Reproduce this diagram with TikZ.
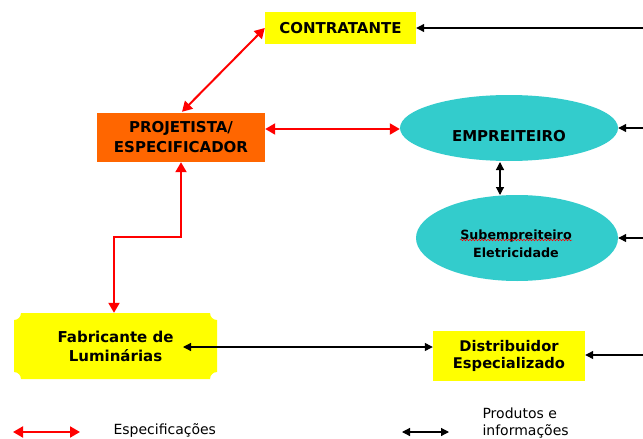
\documentclass[tikz,border=0pt]{standalone}
\usepackage{fontspec}
\setmainfont{DejaVu Sans}
\usetikzlibrary{arrows.meta,shapes.geometric,decorations.pathmorphing}
\definecolor{yel}{HTML}{FFFF00}
\definecolor{org}{HTML}{FF6600}
\definecolor{tea}{HTML}{33CCCC}
\definecolor{rd}{HTML}{FF0000}
\tikzset{
  ybox/.style={fill=yel, inner sep=0pt, align=center, font=\bfseries\fontsize{15}{19}\selectfont},
  dbox/.style={fill=yel, inner sep=0pt, align=center, font=\bfseries\fontsize{14.7}{17.5}\selectfont},
  obox/.style={fill=org, inner sep=0pt, align=center, font=\bfseries\fontsize{15}{20}\selectfont},
  ell/.style={ellipse, fill=tea, inner sep=0pt},
  etext/.style={align=center, font=\bfseries\fontsize{15}{19}\selectfont},
  stext/.style={align=center, font=\bfseries\fontsize{12.7}{18}\selectfont},
  redarr/.style={draw=rd, line width=2pt, {Triangle[length=10pt,width=11pt]}-{Triangle[length=10pt,width=11pt]}},
  blkarr/.style={draw=black, line width=1.2pt, {Triangle[length=8pt,width=8pt]}-{Triangle[length=8pt,width=8pt]}},
  blkone/.style={draw=black, line width=1.2pt, -{Triangle[length=8pt,width=8pt]}},
  legtext/.style={align=left, font=\fontsize{14}{17}\selectfont},
}
\begin{document}
\begin{tikzpicture}[x=1pt,y=1pt]
\useasboundingbox[fill=white] (0,0) rectangle (643,-439);

% nodes
\node[ybox, minimum width=151, minimum height=32] (contr) at (340.5,-28) {CONTRATANTE};
\node[obox, minimum width=168, minimum height=49] (proj) at (181,-137.5) {PROJETISTA/\\ESPECIFICADOR};
\node[ell, minimum width=218, minimum height=66] (emp) at (509,-128) {};
\node[etext] (emptxt) at (509,-136) {EMPREITEIRO};
\node[ell, minimum width=202, minimum height=86] (sub) at (517,-238) {};
\node[stext] (subtxt) at (516,-244) {Subempreiteiro\\Eletricidade};
\coordinate (wav) at (460,-240);
\draw[rd, line width=0.5pt, decorate, decoration={snake, amplitude=0.8pt, segment length=3pt}]
  (wav) -- ++(112,0);

% fabricante plaque shape
\node[inner sep=0pt, minimum width=203, minimum height=66] (fab) at (115.5,-346) {};
\fill[yel] (21,-313) -- (210,-313) arc[start angle=180, end angle=270, radius=7]
  -- (217,-372) arc[start angle=90, end angle=180, radius=7]
  -- (21,-379) arc[start angle=0, end angle=90, radius=7]
  -- (14,-320) arc[start angle=270, end angle=360, radius=7] -- cycle;
\node[ybox, fill=none] (fabtxt) at (115.5,-346) {Fabricante de\\Luminárias};

\node[dbox, minimum width=152, minimum height=50] (dist) at (509,-356) {Distribuidor\\Especializado};

% right side free ends
\coordinate (r1) at (643,-28);
\coordinate (r2) at (643,-128);
\coordinate (r3) at (643,-238);
\coordinate (r4) at (643,-355);

% red connectors
\draw[redarr] (contr.west) -- ([xshift=1,yshift=1]proj.north);
\coordinate (pe) at ([yshift=8.5]proj.east);
\draw[redarr] (pe) -- (pe -| emp.west);
\draw[redarr] (proj.south) -- ++(0,-75) -| ([xshift=-1.5]fab.north);

% black connectors
\draw[blkone] (r1) -- (contr.east);
\draw[blkone] (r2) -- (emp.east);
\draw[blkone] (r3) -- (sub.east);
\draw[blkone] (r4) -- ([yshift=1]dist.east);
\coordinate (v1) at (500,-162);
\coordinate (v2) at (500,-195);
\draw[blkarr] (v1) -- (v2);
\coordinate (fabin) at (183,-347);
\draw[blkarr] (fabin) -- (dist.west |- fabin);

% legend
\coordinate (lr1) at (13,-432);
\coordinate (lr2) at (80,-432);
\draw[redarr] (lr1) -- (lr2);
\node[legtext, anchor=west] (l1) at (110,-431) {Especificações};
\coordinate (lb1) at (402,-432);
\coordinate (lb2) at (449,-432);
\draw[blkarr] (lb1) -- (lb2);
\node[legtext, anchor=west] (l2) at (479,-423) {Produtos e\\informações};
\end{tikzpicture}
\end{document}
